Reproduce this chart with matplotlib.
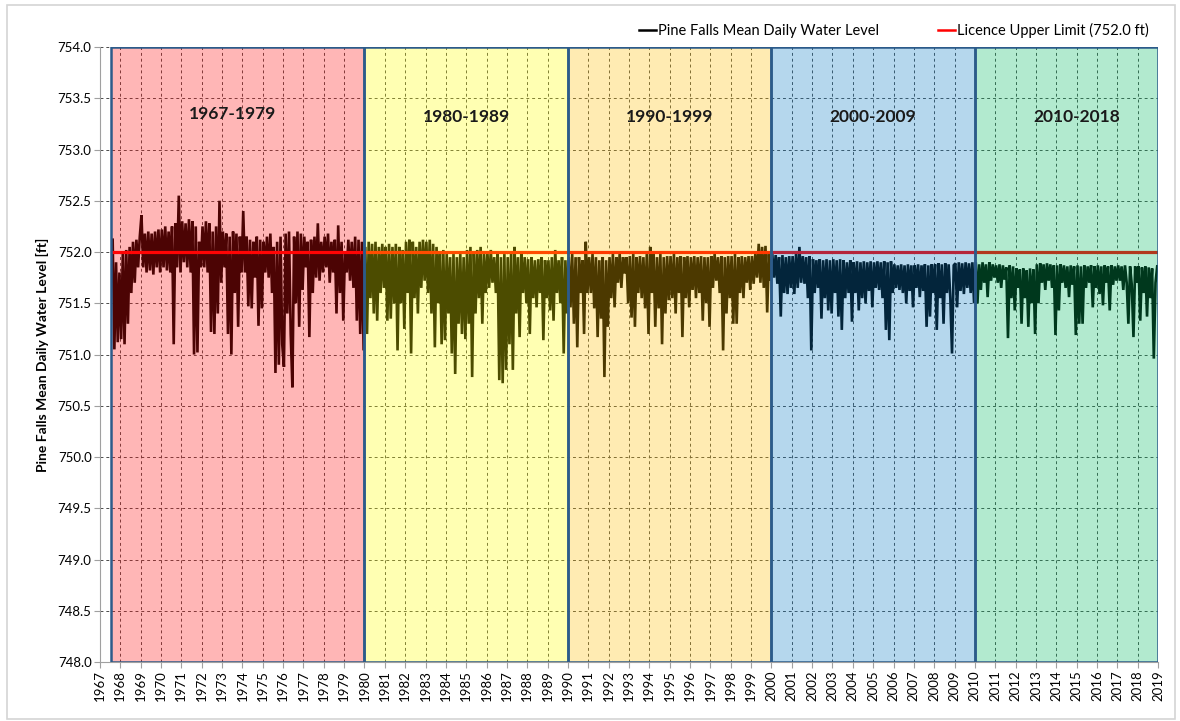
import numpy as np
import matplotlib.pyplot as plt
from matplotlib.patches import Rectangle

plt.rcParams['font.family'] = ['Lato', 'DejaVu Sans']

# %% data: approx. monthly values (ft), Aug 1967 - Dec 2018
start_month = 7   # first value = Aug 1967
levels = {
    1967: [752.12, 751.05, 751.90, 751.12, 751.80],
    1968: [751.15, 752.00, 751.10, 752.02, 751.30, 752.05, 751.60, 752.10, 751.70, 752.12, 751.85, 752.15],
    1969: [752.36, 751.85, 752.18, 751.80, 752.20, 751.82, 752.18, 751.78, 752.20, 751.85, 752.22, 751.80],
    1970: [752.22, 751.85, 752.25, 751.82, 752.20, 751.80, 752.25, 751.10, 752.28, 751.85, 752.55, 751.80],
    1971: [752.30, 751.90, 752.28, 751.85, 752.32, 751.80, 752.30, 751.00, 752.25, 751.02, 752.10, 751.85],
    1972: [752.25, 751.85, 752.30, 751.80, 752.28, 751.22, 752.20, 751.20, 752.25, 751.40, 752.50, 751.70],
    1973: [752.20, 751.85, 752.18, 751.20, 752.15, 751.00, 752.20, 751.60, 752.18, 751.27, 752.15, 751.80],
    1974: [752.40, 751.80, 752.15, 751.47, 752.12, 751.45, 752.10, 751.75, 752.15, 751.28, 752.12, 751.45],
    1975: [752.10, 751.80, 752.15, 751.75, 752.18, 751.60, 752.05, 750.82, 752.10, 750.90, 752.15, 751.10],
    1976: [750.88, 752.18, 751.40, 752.20, 751.20, 750.68, 752.15, 751.50, 752.20, 751.27, 752.18, 751.63],
    1977: [752.15, 751.85, 752.10, 751.17, 752.12, 751.60, 752.15, 751.75, 752.28, 751.72, 752.10, 751.80],
    1978: [752.15, 751.85, 752.18, 751.70, 752.10, 751.80, 752.12, 751.40, 752.26, 751.60, 752.10, 751.33],
    1979: [752.00, 751.80, 752.12, 751.72, 752.10, 751.65, 752.15, 751.33, 752.12, 751.20, 752.10, 751.04],
    1980: [752.05, 751.20, 752.10, 751.55, 752.08, 751.40, 752.10, 751.33, 752.05, 751.60, 752.08, 751.65],
    1981: [752.05, 751.33, 752.08, 751.35, 752.05, 751.50, 752.08, 751.04, 752.05, 751.50, 752.02, 751.25],
    1982: [752.10, 751.60, 752.12, 751.01, 752.10, 751.55, 752.05, 751.40, 752.10, 751.65, 752.12, 751.72],
    1983: [752.10, 751.60, 752.12, 751.40, 752.08, 751.07, 752.05, 751.50, 752.00, 751.10, 752.02, 751.14],
    1984: [751.98, 751.40, 751.95, 751.01, 751.98, 750.81, 751.95, 751.30, 751.98, 751.20, 751.95, 751.15],
    1985: [752.02, 751.30, 752.05, 750.78, 752.00, 751.40, 752.02, 751.55, 752.05, 751.30, 751.98, 751.60],
    1986: [752.00, 751.65, 752.02, 751.70, 751.95, 751.60, 751.98, 750.75, 751.95, 750.72, 751.98, 750.85],
    1987: [751.95, 751.10, 752.00, 750.85, 752.05, 751.40, 751.95, 751.17, 752.00, 751.60, 751.95, 751.50],
    1988: [751.93, 751.20, 751.95, 751.55, 751.92, 751.46, 751.93, 751.60, 751.95, 751.14, 751.92, 751.55],
    1989: [751.92, 751.43, 751.95, 751.33, 752.02, 751.60, 751.92, 751.50, 751.95, 751.01, 751.92, 751.40],
    1990: [751.95, 751.46, 751.98, 751.30, 751.95, 751.07, 751.95, 751.60, 751.92, 751.20, 752.10, 751.60],
    1991: [751.95, 751.60, 751.98, 751.45, 751.95, 751.17, 751.92, 751.35, 751.95, 750.78, 751.92, 751.27],
    1992: [751.95, 751.55, 751.98, 751.46, 751.95, 751.70, 751.98, 751.65, 751.95, 751.79, 751.95, 751.50],
    1993: [751.96, 751.36, 751.98, 751.27, 751.95, 751.60, 751.96, 751.55, 751.95, 751.45, 751.98, 751.20],
    1994: [752.05, 751.60, 751.98, 751.27, 751.95, 751.45, 751.98, 751.10, 751.95, 751.40, 751.96, 751.53],
    1995: [751.96, 751.55, 751.98, 751.40, 751.95, 751.60, 751.96, 751.17, 751.95, 751.55, 751.96, 751.46],
    1996: [751.95, 751.63, 751.96, 751.55, 751.95, 751.60, 751.96, 751.33, 751.95, 751.50, 751.95, 751.27],
    1997: [751.96, 751.65, 751.98, 751.72, 751.95, 751.60, 751.96, 751.04, 751.95, 751.40, 751.96, 751.55],
    1998: [751.96, 751.30, 751.98, 751.30, 751.95, 751.60, 751.96, 751.55, 751.95, 751.70, 751.96, 751.63],
    1999: [751.96, 751.69, 751.98, 751.75, 752.08, 751.70, 752.05, 751.65, 752.06, 751.41, 751.98, 751.72],
    2000: [751.98, 751.75, 751.97, 751.69, 751.95, 751.37, 751.97, 751.60, 751.95, 751.59, 751.96, 751.65],
    2001: [751.96, 751.59, 751.98, 751.65, 752.05, 751.70, 751.96, 751.69, 751.95, 751.55, 751.96, 751.04],
    2002: [751.93, 751.60, 751.92, 751.65, 751.93, 751.35, 751.92, 751.55, 751.93, 751.43, 751.92, 751.40],
    2003: [751.93, 751.60, 751.92, 751.37, 751.93, 751.24, 751.92, 751.55, 751.90, 751.60, 751.92, 751.32],
    2004: [751.90, 751.60, 751.91, 751.43, 751.90, 751.55, 751.91, 751.50, 751.90, 751.62, 751.91, 751.46],
    2005: [751.90, 751.65, 751.91, 751.63, 751.90, 751.55, 751.91, 751.24, 751.90, 751.14, 751.91, 751.60],
    2006: [751.88, 751.65, 751.87, 751.63, 751.88, 751.60, 751.87, 751.50, 751.88, 751.62, 751.87, 751.46],
    2007: [751.87, 751.65, 751.88, 751.56, 751.87, 751.62, 751.88, 751.27, 751.87, 751.37, 751.88, 751.60],
    2008: [751.88, 751.24, 751.89, 751.55, 751.88, 751.30, 751.89, 751.60, 751.88, 751.55, 751.01, 751.87],
    2009: [751.89, 751.46, 751.90, 751.62, 751.89, 751.59, 751.90, 751.65, 751.89, 751.60, 751.90, 751.50],
    2010: [751.90, 751.50, 751.88, 751.63, 751.90, 751.70, 751.88, 751.56, 751.90, 751.72, 751.88, 751.75],
    2011: [751.87, 751.70, 751.88, 751.65, 751.87, 751.73, 751.85, 751.16, 751.87, 751.55, 751.86, 751.43],
    2012: [751.84, 751.65, 751.83, 751.30, 751.84, 751.55, 751.82, 751.27, 751.84, 751.50, 751.83, 751.20],
    2013: [751.88, 751.50, 751.89, 751.70, 751.88, 751.63, 751.89, 751.72, 751.88, 751.65, 751.87, 751.19],
    2014: [751.87, 751.43, 751.88, 751.70, 751.87, 751.65, 751.86, 751.56, 751.87, 751.68, 751.86, 751.19],
    2015: [751.87, 751.30, 751.86, 751.30, 751.87, 751.65, 751.86, 751.70, 751.87, 751.46, 751.86, 751.65],
    2016: [751.87, 751.59, 751.86, 751.48, 751.87, 751.70, 751.86, 751.43, 751.87, 751.68, 751.86, 751.72],
    2017: [751.87, 751.72, 751.86, 751.63, 751.87, 751.70, 751.30, 751.86, 751.68, 751.17, 751.86, 751.70],
    2018: [751.86, 751.33, 751.85, 751.60, 751.86, 751.37, 751.85, 751.55, 751.84, 750.96, 751.70, 751.86],
}
licence_limit = 752.0

# decades shown as coloured bands
band_labels = ['1967-1979', '1980-1989', '1990-1999', '2000-2009', '2010-2018']
band_start = [1967.54, 1980, 1990, 2000, 2010]
band_end = [1980, 1990, 2000, 2010, 2019]
band_colors = ['#ff0f0f', '#ffff00', '#ffc000', '#0a7dc6', '#00bc63']
label_x = [1973.5, 1985.0, 1995.0, 2005.0, 2015.0]
label_y = [753.35, 753.32, 753.32, 753.32, 753.32]

# %% build time axis (decimal years, mid-month)
t = []
wl = []
for yr, vals in levels.items():
    m0 = start_month if yr == 1967 else 0
    for k, v in enumerate(vals):
        t.append(yr + (m0 + k + 0.5) / 12)
        wl.append(v)
t = np.array(t)
wl = np.array(wl)

# %% plot
fig = plt.figure(figsize=(11.8, 7.21), dpi=100)
fig.patches.append(Rectangle((0.006, 0.003), 0.99, 0.99, transform=fig.transFigure,
                             fill=False, edgecolor='#d4d4d4', lw=1.2))
ax = fig.add_axes([0.0847, 0.0818, 0.8967, 0.853])

ax.plot(t, wl, color='black', lw=1.9, zorder=2, solid_joinstyle='miter',
        label='Pine Falls Mean Daily Water Level')
ax.plot([t[0] - 0.05, 2019], [licence_limit, licence_limit], color='red', lw=2.3,
        zorder=2.5, label='Licence Upper Limit (752.0 ft)')

for s, e, c, lab, lx, ly in zip(band_start, band_end, band_colors, band_labels, label_x, label_y):
    ax.axvspan(s, e, color=c, alpha=0.3, lw=0, zorder=3)
    ax.add_patch(Rectangle((s, 748), e - s, 6, fill=False, edgecolor='#2c5b8a',
                           lw=1.8, zorder=4))
    ax.text(lx, ly, lab, ha='center', va='center',
            fontsize=12.5, fontweight='bold', color='#1a1a1a', zorder=5)

ax.set_xlim(1967, 2019)
ax.set_ylim(748, 754)
ax.set_xticks(np.arange(1967, 2020))
ax.set_xticklabels([str(y) for y in range(1967, 2020)], rotation=90, fontsize=9.5)
ax.set_yticks(np.arange(748, 754.01, 0.5))
ax.set_yticklabels(['%.1f' % v for v in np.arange(748, 754.01, 0.5)], fontsize=9.5)
ax.grid(True, color='#4a4a4a', linestyle=(0, (3, 3)), lw=0.7, zorder=1)
ax.set_axisbelow(True)
ax.set_ylabel('Pine Falls Mean Daily Water Level [ft]', fontsize=10, fontweight='bold',
              labelpad=6)

for side in ['top', 'right']:
    ax.spines[side].set_visible(False)
for side in ['left', 'bottom']:
    ax.spines[side].set_color('#a0a0a0')
ax.tick_params(axis='both', color='#a0a0a0', length=4, pad=2)

leg = fig.legend(loc='center right', bbox_to_anchor=(0.985, 0.958), ncol=2, frameon=False,
                 fontsize=10.5, handlelength=1.2, handletextpad=0.15, columnspacing=4.0)
for ln in leg.get_lines():
    ln.set_linewidth(1.8)

plt.savefig('out.png', dpi=100)
